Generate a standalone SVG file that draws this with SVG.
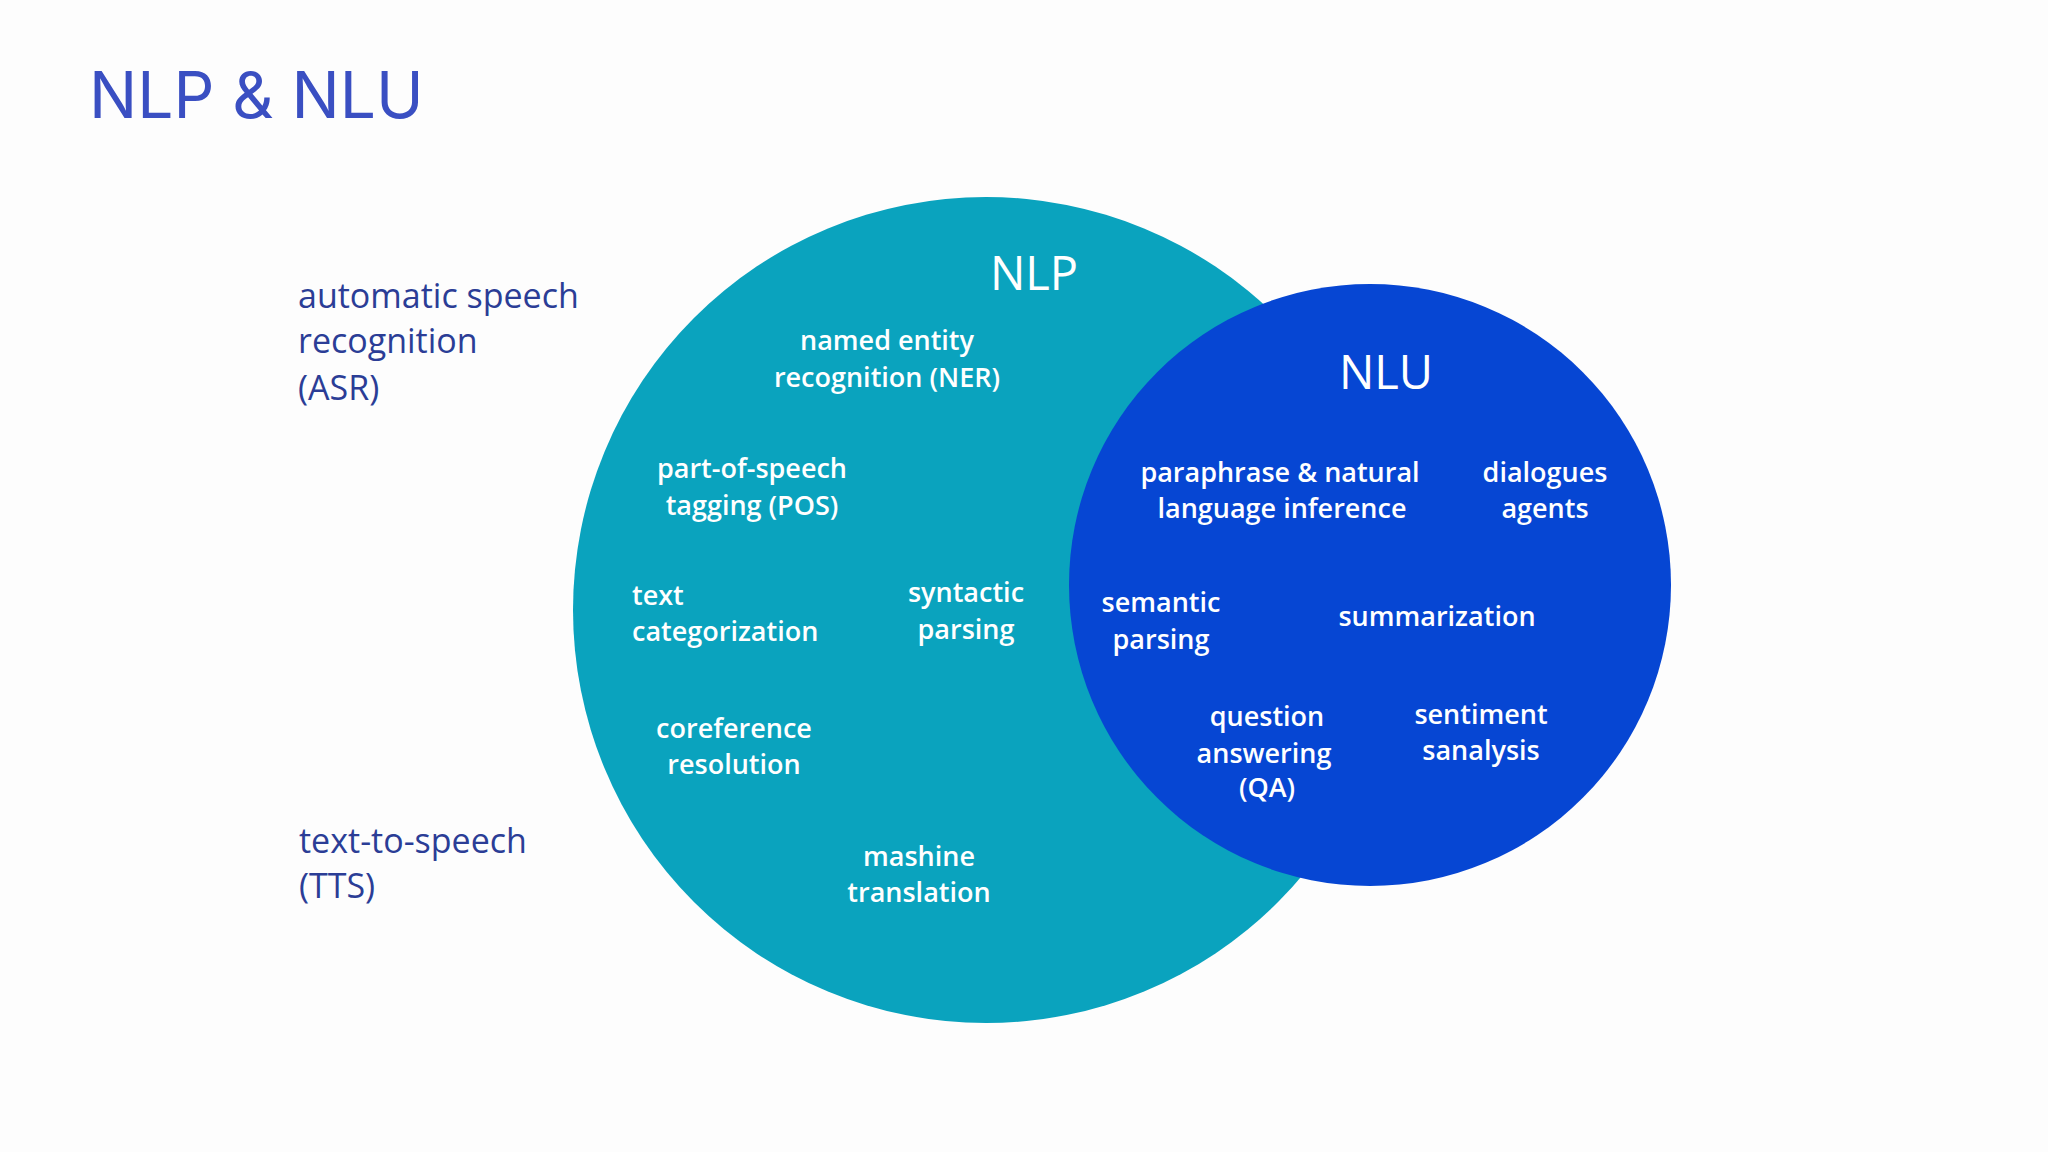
<svg xmlns="http://www.w3.org/2000/svg" width="2048" height="1152" viewBox="0 0 2048 1152">
<style>
.w{fill:#fff;font-family:"Open Sans","Liberation Sans",sans-serif;font-weight:600;font-size:27px;text-anchor:middle}
.s{fill:#2b3d96;font-family:"Open Sans","Liberation Sans",sans-serif;font-size:34px}
.h{fill:#fff;font-family:"Open Sans","Liberation Sans",sans-serif;font-size:47px;text-anchor:middle}
</style>
<rect width="2048" height="1152" fill="#fdfdfd"/>
<text x="89" y="118" style="fill:#3a4fc2;font-family:Inter,'Liberation Sans',sans-serif;font-size:64px">NLP &amp; NLU</text>
<g id="asr"><text class="s" x="298" y="308">automatic speech</text><text class="s" x="298" y="353">recognition</text><text class="s" x="298" y="400">(ASR)</text></g>
<g id="tts"><text class="s" x="299" y="853">text-to-speech</text><text class="s" x="299" y="898">(TTS)</text></g>
<g id="nlp"><circle cx="986" cy="610" r="413" fill="#0aa3be"/><text class="h" x="1034" y="290">NLP</text></g>
<g id="nlu"><circle cx="1370" cy="585" r="301" fill="#0646d3"/><text class="h" x="1386" y="389">NLU</text></g>
<g id="labels">
<text class="w" x="887" y="350">named entity</text><text class="w" x="887" y="387">recognition (NER)</text>
<text class="w" x="752" y="478">part-of-speech</text><text class="w" x="752" y="515">tagging (POS)</text>
<text class="w" x="632" y="605" style="text-anchor:start">text</text><text class="w" x="632" y="641" style="text-anchor:start">categorization</text>
<text class="w" x="966" y="602">syntactic</text><text class="w" x="966" y="639">parsing</text>
<text class="w" x="734" y="738">coreference</text><text class="w" x="734" y="774">resolution</text>
<text class="w" x="919" y="866">mashine</text><text class="w" x="919" y="902">translation</text>
<text class="w" x="1280" y="482">paraphrase &amp; natural</text><text class="w" x="1282" y="518">language inference</text>
<text class="w" x="1545" y="482">dialogues</text><text class="w" x="1545" y="518">agents</text>
<text class="w" x="1161" y="612">semantic</text><text class="w" x="1161" y="649">parsing</text>
<text class="w" x="1437" y="626">summarization</text>
<text class="w" x="1267" y="726">question</text><text class="w" x="1264" y="763">answering</text><text class="w" x="1267" y="797">(QA)</text>
<text class="w" x="1481" y="724">sentiment</text><text class="w" x="1481" y="760">sanalysis</text>
</g>
</svg>
